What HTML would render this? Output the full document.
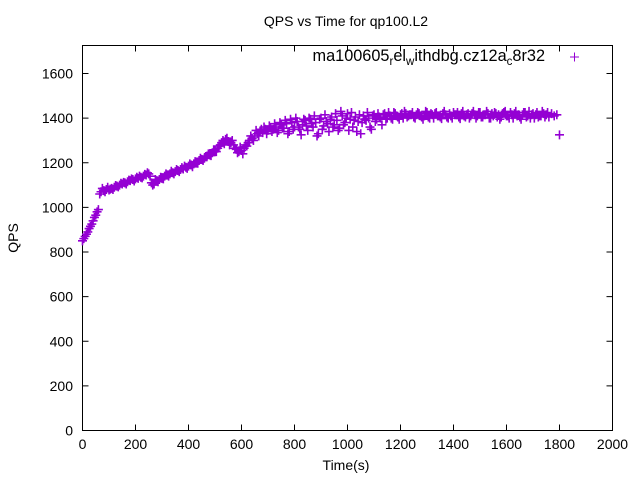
<!DOCTYPE html>
<html><head><meta charset="utf-8"><style>
body{margin:0;background:#fff}
svg{display:block;font-family:"Liberation Sans",sans-serif}
</style></head><body>
<svg id="c" width="640" height="480" xmlns="http://www.w3.org/2000/svg">
<text x="346" y="26" font-size="14" text-anchor="middle">QPS vs Time for qp100.L2</text>
<text x="346" y="470" font-size="14" text-anchor="middle">Time(s)</text>
<text transform="translate(18,238) rotate(-90)" font-size="14" text-anchor="middle">QPS</text>
<rect x="82.5" y="45.5" width="530" height="385" fill="none" stroke="#000"/>
<g id="ticks"></g>
<g id="pts"></g>
<g>
<text x="545" y="61" font-size="16.3" text-anchor="end">ma100605<tspan font-size="11.5" dy="4">r</tspan><tspan dy="-4">el</tspan><tspan font-size="11.5" dy="4">w</tspan><tspan dy="-4">ithdbg.cz12a</tspan><tspan font-size="11.5" dy="4">c</tspan><tspan dy="-4">8r32</tspan></text>
<path d="M570,57h9M574.5,52.5v9" stroke="#9400d3" stroke-width="1"/>
</g>
</svg>
<script>
const xTicks=[0,200,400,600,800,1000,1200,1400,1600,1800,2000];
const yTicks=[0,200,400,600,800,1000,1200,1400,1600];
const times=[];for(let t=0;t<=1800;t+=10)times.push(t);
const times2=[];for(let t=5;t<1800;t+=10)times2.push(t);
const qps=[850,870,890,915,940,965,990,
1070,1075,1080,1078,1085,1090,1095,1100,1105,
1110,1115,1120,1125,1128,1130,1135,1140,1145,1150,
1110,1105,1120,1125,1130,1140,1145,1150,1155,1160,
1165,1170,1172,1180,1185,1190,1195,1200,1210,1215,
1220,1230,1235,1245,1255,1265,1280,1300,1305,1295,
1290,1280,1260,1250,1255,1265,1275,1300,1310,1320,
1330,1340,1335,1350,1345,1355,1350,1360,1345,1370,
1355,1375,1340,1380,1360,1385,1350,1370,1390,1345,
1395,1360,1380,1330,1400,1365,1385,1340,1405,1370,
1390,1355,1410,1380,1420,1395,1360,1405,1385,1330,
1410,1390,1400,1350,1415,1395,1405,1370,1420,1400,
1410,1395,1420,1405,1415,1400,1420,1410,1415,1405,
1415,1420,1405,1410,1425,1400,1415,1420,1410,1405,
1420,1415,1400,1410,1425,1415,1405,1420,1410,1415,
1400,1420,1415,1410,1425,1405,1415,1420,1400,1410,
1420,1415,1405,1425,1410,1400,1415,1420,1410,1405,
1415,1425,1410,1400,1420,1415,1405,1410,1420,1415,
1405,1420,1410,1415,1325];
const qps2=[860,880,905,925,955,980,1060,
1085,1070,1090,1082,1080,1098,1092,1108,1112,
1105,1122,1128,1118,1135,1140,1132,1148,1155,1140,
1100,1125,1115,1135,1128,1150,1140,1162,1150,1170,
1160,1178,1185,1175,1195,1182,1205,1198,1220,1210,
1228,1240,1232,1258,1250,1275,1290,1285,1310,1280,
1300,1265,1245,1270,1240,1280,1290,1320,1300,1345,
1320,1350,1360,1330,1365,1340,1375,1335,1380,1355,
1390,1330,1395,1350,1400,1360,1325,1395,1365,1400,
1375,1410,1320,1395,1350,1415,1375,1395,1360,1420,
1345,1430,1370,1400,1345,1425,1390,1340,1415,1380,
1395,1425,1360,1410,1385,1420,1400,1415,1395,1425,
1400,1425,1410,1395,1420,1430,1405,1415,1425,1400,
1425,1410,1395,1430,1405,1420,1400,1425,1410,1398,
1430,1405,1420,1400,1415,1425,1398,1430,1405,1420,
1410,1430,1400,1425,1405,1415,1430,1400,1420,1425,
1405,1395,1420,1430,1410,1425,1400,1430,1415,1395,
1425,1405,1430,1415,1400,1425,1410,1430,1405,1425];
const X=v=>82.5+v*530/2000, Y=v=>430.5-v*357/1600;
const NS="http://www.w3.org/2000/svg";
const tg=document.getElementById('ticks'),pg=document.getElementById('pts');
xTicks.forEach(v=>{
 const p=document.createElementNS(NS,'path');
 p.setAttribute('d',`M${X(v)},430.5v-6M${X(v)},45.5v6`);p.setAttribute('stroke','#000');
 
 
 tg.appendChild(p);
 const t=document.createElementNS(NS,'text');
 t.setAttribute('x',X(v));t.setAttribute('y',449);t.setAttribute('font-size','14');t.setAttribute('text-anchor','middle');
 t.textContent=v;
 
 
 tg.appendChild(t);
});
yTicks.forEach(v=>{
 const p=document.createElementNS(NS,'path');
 p.setAttribute('d',`M82.5,${Y(v)}h6M612.5,${Y(v)}h-6`);p.setAttribute('stroke','#000');
 
 
 tg.appendChild(p);
 const t=document.createElementNS(NS,'text');
 t.setAttribute('x',73);t.setAttribute('y',Y(v)+5);t.setAttribute('font-size','14');t.setAttribute('text-anchor','end');
 t.textContent=v;
 
 
 tg.appendChild(t);
});
let d='';
qps.forEach((v,i)=>{const x=X(times[i]),y=Y(v);d+=`M${x-4.5},${y}h9M${x},${y-4.5}v9`;});
qps2.forEach((v,i)=>{const x=X(times2[i]),y=Y(v);d+=`M${x-4.5},${y}h9M${x},${y-4.5}v9`;});
const pp=document.createElementNS(NS,'path');
pp.setAttribute('d',d);pp.setAttribute('stroke','#9400d3');pp.setAttribute('stroke-width','1.6');pp.setAttribute('fill','none');


pg.appendChild(pp);
</script>
</body></html>
